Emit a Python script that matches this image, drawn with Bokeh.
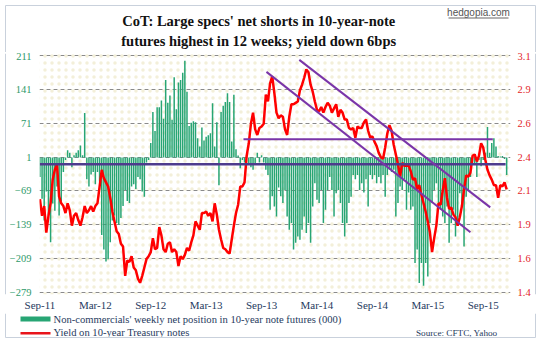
from bokeh.plotting import figure
from bokeh.layouts import column, row
from bokeh.models import Range1d, LinearAxis, FixedTicker, BoxAnnotation
from bokeh.core.properties import value
from bokeh.embed import file_html
from bokeh.resources import INLINE

# ---------------- data ----------------
weeks = list(range(220))  # weekly index, week 0 = Sep-2011

net_position = [
    -40, -85, -130, -70, -120, -175, -95, -110, -60, -120, -90, -30, -5, 15, 10, -20, 5, 10, 15, 25,
    5, 92, -45, -60, -35, -30, -55, -30, -50, -160, -190, -215, -210, -175, -130, -120, -135,
    -139, -125, -100, -67, -90, -94, -60, -55, -65, -40, -45, -70, -81, -10, -5, 30, 94, 55, 104,
    104, 118, 80, 160, 113, 128, 78, 166, 100, 155, 160, 175, 200, 136, 65, 72, 75, 73,
    40, 23, 62, 35, 43, 46, 50, 112, 23, 73, -57, 94, 107, 115, 133, 115, 33, 130, 17, 4, -22, -5,
    -10, 5, -15, -20, -25, -15, 10, -10, 5, -10, -25, -36, -108, -80,
    -101, -122, -62, -80, -94, -67, -122, -149, -135, -190, -176, -163, -170, -149, -122, -156,
    -135, -176, -101, -53, -87, -94, -67, -135, -108, -67, -40, -67, -122, -74, -67, -94, -135,
    -163, -135, -94,
    -81, -36, -45, -36, -67, -53, -72, -45, -101, -36, -45, -36, -53, -40, -53, -36, -81, -36,
    -25, -30, -25, -122, -94, -60, -67, -45, -108, -72, -108, -101, -218, -190, -259, -218, -265, -218,
    -246, -135, -94, -67, -53, -94, -108, -122, -135, -101, -176, -135, -108, -163, -135, -74, -101,
    -184, -81, -67, -40, -12, -12, -40, -5, -18, -5, 10, 63, 10, 30, 40, 23, 3, 2, 3, -3, -36,
]

yield_10y = [
    2.07, 1.95, 2.02, 1.83, 1.95, 2.04, 2.21, 2.28, 2.32, 2.09, 2.04, 2.02, 1.97, 2.04, 1.99, 1.88,
    1.95, 1.97, 1.92, 1.88, 1.94, 2.02, 1.97, 1.99, 2.02, 1.98, 2.02, 2.04, 2.16, 2.28, 2.22, 2.19,
    2.16, 2.08, 1.98, 1.91, 1.84,
    1.82, 1.75, 1.73, 1.52, 1.63, 1.62, 1.66, 1.58, 1.56, 1.50, 1.47, 1.52, 1.58, 1.64, 1.66, 1.69,
    1.79, 1.71, 1.72, 1.87, 1.81, 1.71, 1.69, 1.75, 1.76, 1.69, 1.71, 1.69, 1.59, 1.66, 1.64, 1.67,
    1.72, 1.70, 1.76, 1.81, 1.91,
    1.88, 1.85, 1.97, 1.97, 1.98, 1.95, 1.97, 1.91, 2.04, 1.96, 1.85, 1.78, 1.72, 1.71, 1.69, 1.68,
    1.78, 1.88, 1.97, 2.03, 2.16, 2.16, 2.19, 2.38, 2.47, 2.61, 2.69, 2.57, 2.53, 2.58, 2.59, 2.61,
    2.82, 2.77, 2.90, 2.95,
    2.83, 2.69, 2.65, 2.67, 2.66, 2.57, 2.53, 2.66, 2.75, 2.75, 2.76, 2.77, 2.85, 2.89, 2.94, 3.00,
    2.98, 2.89, 2.84, 2.77, 2.71, 2.70, 2.73, 2.69, 2.73, 2.76, 2.74, 2.69, 2.72, 2.75, 2.66, 2.71,
    2.69, 2.64, 2.64, 2.58,
    2.57, 2.58, 2.51, 2.59, 2.58, 2.58, 2.62, 2.64, 2.56, 2.51, 2.52, 2.48, 2.45, 2.40, 2.37, 2.36,
    2.44, 2.54, 2.60, 2.56, 2.46, 2.39, 2.32, 2.23, 2.33, 2.31, 2.31, 2.31, 2.27, 2.21, 2.22, 2.14,
    2.17, 2.10, 2.04, 1.98,
    1.91, 1.83, 1.69, 1.79, 1.88, 2.04, 2.03, 2.13, 2.22, 2.08, 2.00, 2.01, 1.96, 1.94, 1.88, 1.94,
    2.02, 2.14, 2.24, 2.23, 2.26, 2.38, 2.39, 2.34, 2.38, 2.47, 2.44, 2.35, 2.28, 2.24, 2.21, 2.17,
    2.17, 2.08, 2.17, 2.16, 2.19, 2.14,
]

x_tick_weeks = [0, 26, 52, 78, 104, 130, 156, 182, 208]
x_tick_labels = ["Sep-11", "Mar-12", "Sep-12", "Mar-13", "Sep-13", "Mar-14", "Sep-14", "Mar-15", "Sep-15"]
left_ticks = [-279, -209, -139, -69, 1, 71, 141, 211]
right_ticks = [1.4, 1.643, 1.886, 2.129, 2.371, 2.614, 2.857, 3.1]
right_tick_labels = ["1.4", "1.6", "1.9", "2.1", "2.4", "2.6", "2.9", "3.1"]

# trend lines drawn on the yield scale: (weeks, yields)
support_upper_x, support_upper_y = [95.5, 212.5], [2.50, 2.50]
support_lower_x, support_lower_y = [0, 218.5], [2.32, 2.32]
channel_upper_x, channel_upper_y = [121.7, 211.3], [3.068, 2.011]
channel_lower_x, channel_lower_y = [106.3, 202.0], [2.982, 1.832]

title_lines = ["CoT:  Large specs' net shorts in 10-year-note",
               "futures highest in 12 weeks; yield down  6bps"]
watermark = "hedgopia.com"
legend_labels = ["Non-commercials' weekly net position in 10-year note futures (000)",
                 "Yield on 10-year Treasury notes"]
source_note = "Source: CFTC, Yahoo"

# ---------------- styling constants ----------------
W = 543
SERIF = "Liberation Serif"
GREEN = "#27a574"
RED = "#ff0000"
PURPLE = "#7a35a8"
NAVY_PURPLE = "#4e3b8c"
TEXT_NAVY = "#263a5e"
BORDER = "#c9d1dc"

TOP_H = 52          # canvas y 0..52
MID_TOP, MID_BOT = 52, 313
BOT_H = 353 - MID_BOT


def blank_fig(width, height, x0, x1, y_top, y_bot):
    f = figure(width=width, height=height, x_range=Range1d(x0, x1), y_range=Range1d(y_bot, y_top),
               output_backend="svg", toolbar_location=None, title=None,
               x_axis_location=None, y_axis_location=None,
               min_border_left=0, min_border_right=0, min_border_top=0, min_border_bottom=0)
    f.grid.visible = False
    f.outline_line_color = None
    f.background_fill_color = "white"
    f.border_fill_color = "white"
    return f


# ---------------- top strip: title ----------------
top = blank_fig(W, TOP_H, 0, W, 0, TOP_H)
top.text(x=[260, 260], y=[20, 40], text=title_lines, text_font=value(SERIF),
         text_font_style="bold", text_font_size="14.5px", text_color="#111111",
         text_align="center", text_baseline="middle")
top.text(x=[478], y=[11.5], text=[watermark], text_font=value("Liberation Sans"),
         text_font_size="10px", text_color="#555555", text_align="center", text_baseline="middle")
top.segment(x0=[448], y0=[17.5], x1=[508], y1=[17.5], line_color="#666666", line_width=1)
top.segment(x0=[5, 5, 535], y0=[5, 5, 5], x1=[535, 5, 535], y1=[5, TOP_H, TOP_H],
            line_color=BORDER, line_width=1)

# ---------------- main chart ----------------
MAIN_X0, MAIN_X1 = 6, 534
FRAME_L, FRAME_R = 38, 510
FRAME_T, FRAME_B = 53, 296
p = figure(width=MAIN_X1 - MAIN_X0, height=MID_BOT - MID_TOP,
           x_range=Range1d(-0.2, 220.8), y_range=Range1d(-283, 215),
           output_backend="svg", toolbar_location=None, title=None,
           min_border_left=FRAME_L - MAIN_X0, min_border_right=MAIN_X1 - FRAME_R,
           min_border_top=FRAME_T - MID_TOP, min_border_bottom=MID_BOT - FRAME_B)
p.outline_line_color = None
p.background_fill_color = "white"
p.border_fill_color = "white"

p.add_layout(BoxAnnotation(fill_alpha=0, hatch_pattern="dot", hatch_color="#ebe4bf",
                           hatch_alpha=0.6, hatch_scale=7, hatch_weight=1,
                           line_color=None, level="underlay"))

ax = p.xaxis[0]
ax.ticker = FixedTicker(ticks=x_tick_weeks)
ax.major_label_overrides = {w: l for w, l in zip(x_tick_weeks, x_tick_labels)}
ay = p.yaxis[0]
ay.ticker = FixedTicker(ticks=left_ticks)

p.extra_y_ranges = {"yld": Range1d(1.4 - 4 * 1.7 / 490, 3.1 + 4 * 1.7 / 490)}
ry = LinearAxis(y_range_name="yld", ticker=FixedTicker(ticks=right_ticks),
                major_label_overrides={t: l for t, l in zip(right_ticks, right_tick_labels)})
p.add_layout(ry, "right")

for a in (ax, ay, ry):
    a.axis_line_color = None
    a.major_tick_line_color = None
    a.minor_tick_line_color = None
    a.major_tick_out = 0
    a.major_tick_in = 0
    a.major_label_text_font = SERIF
ax.major_label_text_font_size = "11px"
ax.major_label_text_color = TEXT_NAVY
ax.major_label_standoff = 4
ay.major_label_text_font_size = "10.5px"
ay.major_label_text_color = "#2e9a6a"
ay.major_label_standoff = 8
ry.major_label_text_font_size = "10.5px"
ry.major_label_text_color = "#e3262b"
ry.major_label_standoff = 7

p.xgrid.visible = False
p.ygrid.ticker = FixedTicker(ticks=left_ticks)
p.ygrid.grid_line_color = "#8a8a8a"
p.ygrid.grid_line_dash = "4 3"
p.ygrid.grid_line_width = 1

p.vbar(x=weeks, top=net_position, bottom=0, width=0.7, fill_color=GREEN, line_color=None)
p.line(weeks, yield_10y, y_range_name="yld", line_color=RED, line_width=2.5)
p.line(support_lower_x, support_lower_y, y_range_name="yld", line_color=NAVY_PURPLE, line_width=2.5)
p.line(support_upper_x, support_upper_y, y_range_name="yld", line_color=PURPLE, line_width=2)
p.line(channel_upper_x, channel_upper_y, y_range_name="yld", line_color=PURPLE, line_width=2)
p.line(channel_lower_x, channel_lower_y, y_range_name="yld", line_color=PURPLE, line_width=2)

# side strips carrying the outer frame line
left_strip = blank_fig(MAIN_X0, MID_BOT - MID_TOP, 0, MAIN_X0, MID_TOP, MID_BOT)
left_strip.segment(x0=[5], y0=[MID_TOP], x1=[5], y1=[MID_BOT], line_color=BORDER, line_width=1)
right_strip = blank_fig(W - MAIN_X1, MID_BOT - MID_TOP, MAIN_X1, W, MID_TOP, MID_BOT)
right_strip.segment(x0=[535], y0=[MID_TOP], x1=[535], y1=[MID_BOT], line_color=BORDER, line_width=1)

# ---------------- bottom strip: legend ----------------
bot = blank_fig(W, BOT_H, 0, W, MID_BOT, 353)
bot.quad(left=[20], right=[50], top=[316], bottom=[321], fill_color=GREEN, line_color=None)
bot.quad(left=[20], right=[50], top=[331.5], bottom=[334], fill_color="#e8141b", line_color=None)
bot.text(x=[53, 53], y=[318.5, 332], text=legend_labels, text_font=value(SERIF),
         text_font_size="10.6px", text_color=TEXT_NAVY, text_baseline="middle")
bot.text(x=[497], y=[332], text=[source_note], text_font=value(SERIF),
         text_font_size="9.2px", text_color=TEXT_NAVY, text_align="right", text_baseline="middle")
bot.segment(x0=[5, 5, 535], y0=[337, MID_BOT, MID_BOT], x1=[535, 5, 535], y1=[337, 337, 337],
            line_color=BORDER, line_width=1)

layout = column(top, row(left_strip, p, right_strip, spacing=0), bot, spacing=0)

open("out.html", "w").write(file_html(layout, INLINE))
